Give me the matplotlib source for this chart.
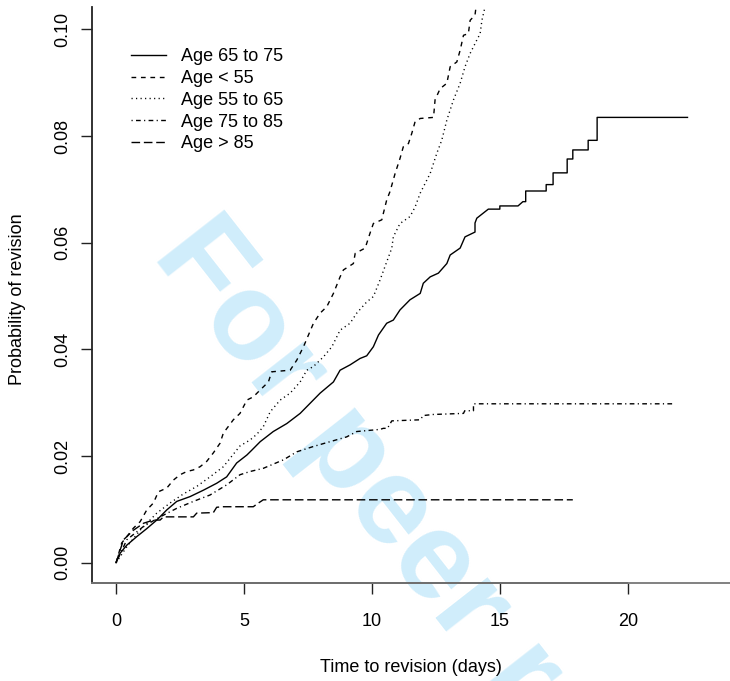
import matplotlib
matplotlib.use('Agg')
import matplotlib.pyplot as plt

plt.rcParams['font.family'] = ['Liberation Sans', 'DejaVu Sans']
plt.rcParams['lines.scale_dashes'] = False

# ---------------- data (vertices) ----------------
# Age 65 to 75 (solid)
t_6575 = [0, 0.16, 0.42, 0.81, 1.20, 1.59, 1.98, 2.37, 2.89, 3.41, 3.93, 4.32, 4.71, 5.11,
          5.30, 5.63, 6.14, 6.67, 7.19, 7.58, 7.97, 8.49, 8.75, 9.14, 9.53, 9.79, 10.05,
          10.25, 10.57, 10.83, 11.09, 11.48, 11.88, 12.00, 12.27, 12.59, 12.92, 13.05,
          13.44, 13.63, 14.02, 14.02, 14.09, 14.54, 14.99, 14.99, 15.70, 15.89, 16.00,
          16.00, 16.80, 16.80, 17.07, 17.07, 17.62, 17.62, 17.84, 17.84, 18.44, 18.44,
          18.79, 18.79, 22.32]
p_6575 = [0, 0.0018, 0.0033, 0.0049, 0.0064, 0.0080, 0.0099, 0.0115, 0.0124, 0.0136, 0.0149,
          0.0161, 0.0187, 0.0202, 0.0211, 0.0227, 0.0246, 0.0261, 0.0280, 0.0299, 0.0318,
          0.0339, 0.0361, 0.0371, 0.0383, 0.0388, 0.0405, 0.0427, 0.0449, 0.0455, 0.0474,
          0.0493, 0.0505, 0.0524, 0.0536, 0.0543, 0.0561, 0.0577, 0.0590, 0.0611, 0.0620,
          0.0637, 0.0646, 0.0663, 0.0663, 0.0669, 0.0669, 0.0677, 0.0677, 0.0697, 0.0697,
          0.0709, 0.0709, 0.0731, 0.0731, 0.0757, 0.0757, 0.0774, 0.0774, 0.0792, 0.0792,
          0.0835, 0.0835]

# Age < 55 (dashed)
t_lt55 = [0, 0.22, 0.42, 0.68, 0.94, 1.20, 1.46, 1.65, 1.98, 2.24, 2.50, 2.76, 3.02, 3.28,
          3.54, 3.80, 4.06, 4.19, 4.58, 4.84, 5.11, 5.36, 5.63, 5.95, 6.08, 6.80, 7.06, 7.32,
          7.71, 7.97, 8.23, 8.49, 8.75, 8.88, 9.27, 9.34, 9.73, 9.92, 10.05, 10.38, 10.44,
          10.57, 10.70, 10.90, 11.09, 11.22, 11.42, 11.55, 11.68, 11.88, 12.40, 12.46, 12.66,
          12.92, 13.05, 13.31, 13.44, 13.57, 13.76, 13.83, 14.02, 14.06, 14.14]
p_lt55 = [0, 0.0037, 0.0049, 0.0065, 0.0077, 0.0099, 0.0112, 0.0133, 0.0140, 0.0155, 0.0165,
          0.0171, 0.0174, 0.0180, 0.0190, 0.0206, 0.0224, 0.0243, 0.0268, 0.0280, 0.0305,
          0.0311, 0.0324, 0.0339, 0.0358, 0.0361, 0.0380, 0.0405, 0.0449, 0.0468, 0.0480,
          0.0505, 0.0536, 0.0549, 0.0561, 0.0580, 0.0590, 0.0618, 0.0636, 0.0643, 0.0655,
          0.0680, 0.0696, 0.0730, 0.0758, 0.0780, 0.0786, 0.0805, 0.0827, 0.0833, 0.0835,
          0.0868, 0.0889, 0.0899, 0.0930, 0.0939, 0.0961, 0.0989, 0.0992, 0.1017, 0.1027,
          0.1042, 0.1070]

# Age 55 to 65 (dotted)
t_5565 = [0, 0.42, 0.94, 1.59, 2.11, 2.63, 3.15, 3.67, 4.19, 4.84, 5.23, 5.50, 5.75, 6.02,
          6.41, 6.80, 7.19, 7.45, 7.71, 8.10, 8.43, 8.75, 9.14, 9.40, 9.79, 10.05, 10.31,
          10.57, 10.77, 10.83, 11.09, 11.48, 11.68, 11.88, 12.27, 12.53, 12.72, 12.92, 13.18,
          13.44, 13.63, 13.83, 14.09, 14.22, 14.29, 14.41, 14.49]
p_5565 = [0, 0.0030, 0.0061, 0.0093, 0.0112, 0.0129, 0.0143, 0.0161, 0.0180, 0.0219, 0.0230,
          0.0241, 0.0255, 0.0283, 0.0305, 0.0318, 0.0339, 0.0361, 0.0368, 0.0386, 0.0405,
          0.0436, 0.0449, 0.0468, 0.0489, 0.0499, 0.0530, 0.0564, 0.0590, 0.0611, 0.0636,
          0.0649, 0.0667, 0.0693, 0.0730, 0.0768, 0.0792, 0.0830, 0.0868, 0.0899, 0.0930,
          0.0955, 0.0980, 0.0992, 0.1017, 0.1042, 0.1070]

# Age 75 to 85 (dot-dash)
t_7585 = [0, 0.42, 1.07, 1.72, 2.37, 3.02, 3.67, 4.32, 4.84, 5.23, 5.75, 6.54, 7.06, 7.71,
          8.36, 9.01, 9.40, 10.31, 10.44, 10.60, 10.77, 11.88, 12.00, 12.39, 13.57, 13.62,
          13.96, 13.96, 21.84]
p_7585 = [0, 0.0043, 0.0068, 0.0086, 0.0102, 0.0115, 0.0127, 0.0146, 0.0165, 0.0171, 0.0177,
          0.0193, 0.0208, 0.0218, 0.0227, 0.0236, 0.0246, 0.0250, 0.0252, 0.0252, 0.0266,
          0.0268, 0.0276, 0.0278, 0.0280, 0.0285, 0.0285, 0.0298, 0.0298]

# Age > 85 (long dash)
t_gt85 = [0, 0.29, 0.68, 1.07, 1.46, 1.72, 1.85, 3.02, 3.15, 3.80, 3.93, 4.19, 5.36, 5.50,
          5.75, 17.84]
p_gt85 = [0, 0.0043, 0.0061, 0.0074, 0.0080, 0.0080, 0.0086, 0.0086, 0.0093, 0.0094, 0.0104,
          0.0105, 0.0105, 0.0110, 0.0118, 0.0118]

legend_labels = ['Age 65 to 75', 'Age < 55', 'Age 55 to 65', 'Age 75 to 85', 'Age > 85']
x_ticks = [0, 5, 10, 15, 20]
x_ticklabels = ['0', '5', '10', '15', '20']
y_ticks = [0.00, 0.02, 0.04, 0.06, 0.08, 0.10]
y_ticklabels = ['0.00', '0.02', '0.04', '0.06', '0.08', '0.10']

# ---------------- figure ----------------
W, H = 730, 681
fig = plt.figure(figsize=(W / 100, H / 100), dpi=100)
ax = fig.add_axes([92 / W, 1 - 583 / H, (W - 92) / W, (583 - 7) / H])
ax.patch.set_visible(False)

# watermark (behind everything)
fig.text(151 / W, 1 - 255 / H, 'For peer review', rotation=-52, rotation_mode='anchor',
         ha='left', va='baseline', fontsize=90, fontweight='bold', color='#d0edfb',
         zorder=-1)

styles = [
    (t_6575, p_6575, '-'),
    (t_lt55, p_lt55, (0, (3.4, 3.4))),
    (t_5565, p_5565, (0, (0.85, 2.4))),
    (t_7585, p_7585, (0, (0.85, 2.4, 3.4, 2.4))),
    (t_gt85, p_gt85, (0, (6.2, 2.7))),
]
handles = []
for (t, p, ls), lab in zip(styles, legend_labels):
    h, = ax.plot(t, p, color='black', lw=1.0, ls=ls, label=lab)
    handles.append(h)

ax.set_xlim(-0.94, 23.98)
ax.set_ylim(-0.0038, 0.1042)

ax.set_xticks(x_ticks)
ax.set_xticklabels(x_ticklabels)
ax.set_yticks(y_ticks)
ax.set_yticklabels(y_ticklabels, rotation=90, va='center')

ax.tick_params(axis='both', length=8, width=1.0, color='#222222', labelsize=13,
               labelcolor='black')
ax.tick_params(axis='x', pad=13.5)
ax.tick_params(axis='y', pad=7)

for s in ['top', 'right']:
    ax.spines[s].set_visible(False)
ax.spines['left'].set_color('#222222')
ax.spines['left'].set_linewidth(1.3)
ax.spines['bottom'].set_color('#777777')
ax.spines['bottom'].set_linewidth(1.3)
ax.plot([-0.94, x_ticks[-1]], [0, 0], transform=ax.get_xaxis_transform(),
        color='#222222', lw=1.4, clip_on=False, solid_capstyle='butt')

ax.set_xlabel('Time to revision (days)', fontsize=13)
ax.xaxis.set_label_coords(0.5, (583 - 667) / 576)
ax.xaxis.label.set_va('center')
ax.set_ylabel('Probability of revision', fontsize=13)
ax.yaxis.set_label_coords((18 - 92) / 638, (583 - 299) / 576)
ax.yaxis.label.set_va('center')

leg = ax.legend(handles=handles, loc='upper left', bbox_to_anchor=(131 / W, 1 - 48 / H),
                bbox_transform=fig.transFigure, frameon=False, fontsize=13,
                handlelength=1.94, handletextpad=0.83, labelspacing=0.27,
                borderpad=0, borderaxespad=0)

fig.savefig('out.png', dpi=100)
